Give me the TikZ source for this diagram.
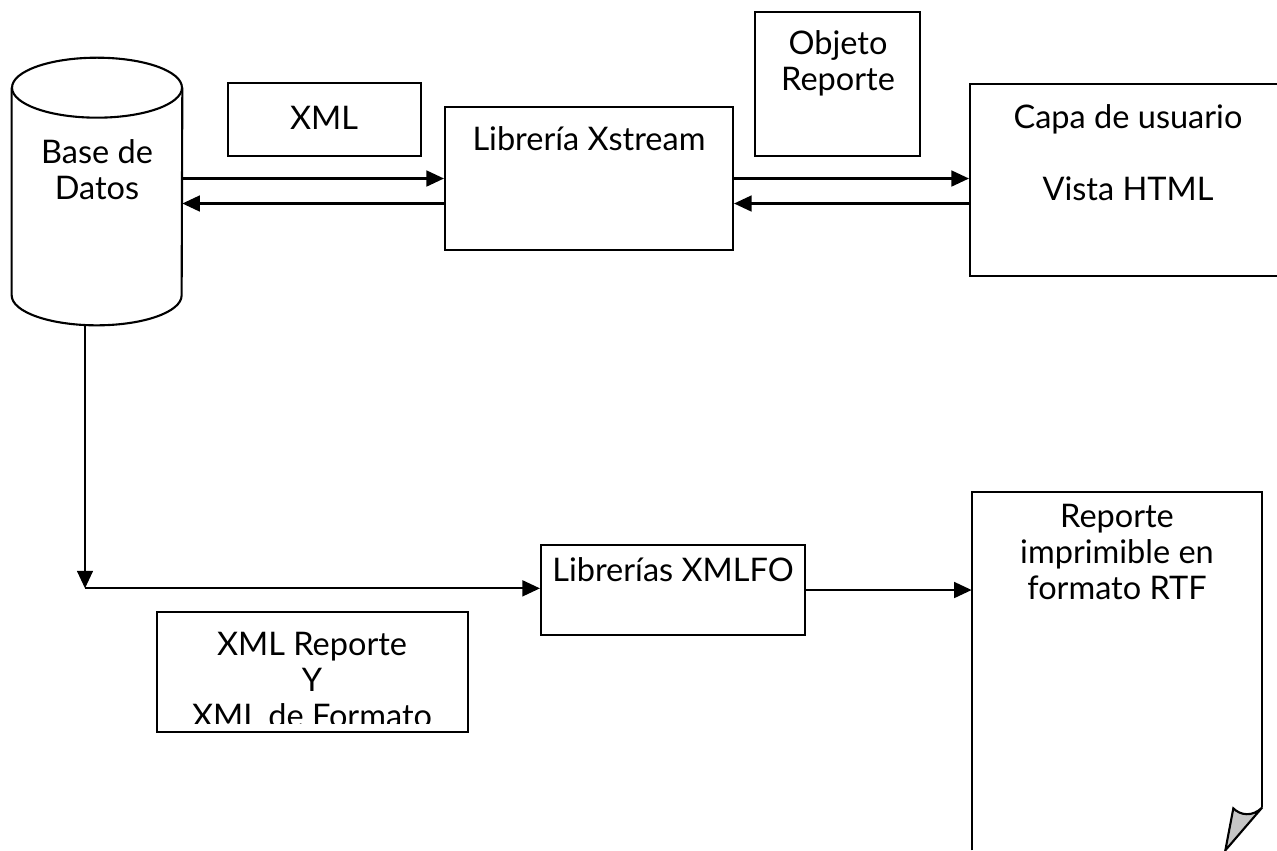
\documentclass[tikz,border=0pt]{standalone}
\usepackage{fontspec}
\setmainfont{Lato}
\usepackage{tikz}
\usetikzlibrary{arrows.meta,calc}
\tikzstyle{arrow} = [line width=1.3pt,-{Triangle[length=10pt,width=9pt]}]
\tikzstyle{box} = [draw,line width=1.2pt,inner sep=0pt]
\tikzstyle{txt} = [align=center,inner sep=0pt,font=\fontsize{18.5}{20.5}\selectfont]

\begin{document}
\begin{tikzpicture}[x=0.02cm,y=-0.02cm]
          \clip (0,0) rectangle (1277,850);
          % boxes
          \node[inner sep=0pt,minimum width=3.4cm,minimum height=5.34cm] (db) at (97,191.5) {};
          \node[box,minimum width=3.86cm,minimum height=1.46cm] (xml) at (324.5,119.5) {};
          \node[box,minimum width=5.76cm,minimum height=2.86cm] (xs) at (589,178.5) {};
          \node[box,minimum width=3.3cm,minimum height=2.88cm] (obj) at (837.5,84) {};
          \node[box,minimum width=6.4cm,minimum height=3.84cm] (capa) at (1130,180) {};
          \node[box,minimum width=5.28cm,minimum height=1.8cm] (fo) at (673,590) {};
          \node[box,minimum width=6.22cm,minimum height=2.4cm] (rep) at (312.5,672) {};
          \node[inner sep=0pt,minimum width=5.8cm,minimum height=7.16cm] (rtf) at (1117,671) {};

          % data base
          \draw[line width=1.2pt] ($(db.north west)+(0,30)$) -- ($(db.south west)+(0,-30)$)
            arc[start angle=180,end angle=360,x radius=1.7cm,y radius=0.6cm] -- ($(db.north east)+(0,30)$);
          \draw[line width=1.2pt] ($(db.north)+(0,30)$) ellipse [x radius=1.7cm,y radius=0.6cm];

          % printable report
          \draw[line width=1.2pt] (rtf.south west) -- (rtf.north west) -- (rtf.north east) -- ($(rtf.south east)+(0,-43)$);
          \filldraw[fill=gray!45,line width=1.2pt] ($(rtf.south east)+(0,-43)$)
            .. controls ($(rtf.south east)+(-10,-33)$) and ($(rtf.south east)+(-22,-35)$) .. ($(rtf.south east)+(-29,-42)$)
            -- ($(rtf.south east)+(-37,0)$) -- cycle;

          % texts
          \node[txt] (db-t) at (97,170) {Base de\\Datos};
          \node[txt] (xml-t) at (324,118) {XML};
          \node[txt] (xs-t) at (589,139) {Librería Xstream};
          \node[txt] (obj-t) at (838,63) {Objeto\\Reporte};
          \node[txt] (capa-t) at (1128,153) {Capa de usuario\\[20.5pt]Vista HTML};
          \node[txt] (fo-t) at (673,570) {Librerías XMLFO};
          \node[txt] (rtf-t) at (1117,552) {Reporte\\imprimible en\\formato RTF};
          \begin{scope}
            \clip (rep.north west) rectangle ($(rep.south east)+(0,-10)$);
            \node[txt] (rep-t) at (312,680) {XML Reporte\\Y\\XML de Formato};
          \end{scope}

          % arrows
          \draw[arrow] (db.east |- xs.west) -- (xs.west);
          \draw[arrow] ($(xs.west)+(0,25)$) -- ($(xs.west -| db.east)+(0,25)$);
          \draw[arrow] (xs.east) -- (xs.east -| capa.west);
          \draw[arrow] ($(xs.east -| capa.west)+(0,25)$) -- ($(xs.east)+(0,25)$);
          \coordinate (turn) at ($(db.south)+(-12,263)$);
          \draw[arrow] ($(db.south)+(-12,0)$) -- (turn);
          \draw[arrow] (turn) -- (turn -| fo.west);
          \draw[arrow] (fo.east) -- (fo.east -| rtf.west);

\end{tikzpicture}
\end{document}
